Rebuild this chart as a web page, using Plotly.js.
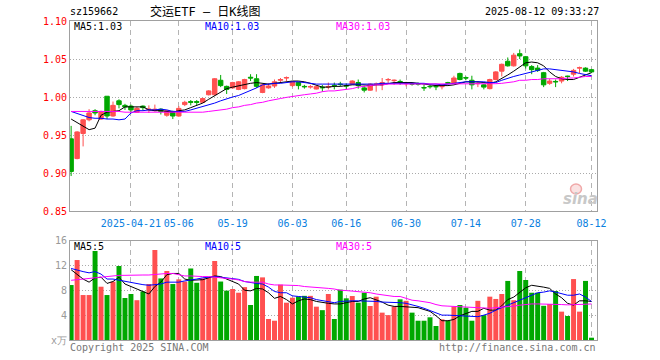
<!DOCTYPE html>
<html><head><meta charset="utf-8">
<script src="https://cdn.plot.ly/plotly-3.0.1.min.js"></script>
<style>body{margin:0;background:#fff}#c{width:660px;height:360px}</style>
</head><body><div id="c"></div>
<script>
const dates = [
'2025-04-07','2025-04-08','2025-04-09','2025-04-10','2025-04-11','2025-04-14','2025-04-15','2025-04-16','2025-04-17','2025-04-18',
'2025-04-21','2025-04-22','2025-04-23','2025-04-24','2025-04-25','2025-04-28','2025-04-29','2025-04-30',
'2025-05-06','2025-05-07','2025-05-08','2025-05-09','2025-05-12','2025-05-13','2025-05-14','2025-05-15','2025-05-16',
'2025-05-19','2025-05-20','2025-05-21','2025-05-22','2025-05-23','2025-05-26','2025-05-27','2025-05-28','2025-05-29','2025-05-30',
'2025-06-03','2025-06-04','2025-06-05','2025-06-06','2025-06-09','2025-06-10','2025-06-11','2025-06-12','2025-06-13',
'2025-06-16','2025-06-17','2025-06-18','2025-06-19','2025-06-20','2025-06-23','2025-06-24','2025-06-25','2025-06-26','2025-06-27',
'2025-06-30','2025-07-01','2025-07-02','2025-07-03','2025-07-04','2025-07-07','2025-07-08','2025-07-09','2025-07-10','2025-07-11',
'2025-07-14','2025-07-15','2025-07-16','2025-07-17','2025-07-18','2025-07-21','2025-07-22','2025-07-23','2025-07-24','2025-07-25',
'2025-07-28','2025-07-29','2025-07-30','2025-07-31','2025-08-01','2025-08-04','2025-08-05','2025-08-06','2025-08-07','2025-08-08',
'2025-08-11','2025-08-12'];

const open = [
0.945,0.919,0.952,0.970,0.982,0.971,1.001,0.975,0.995,0.989,
0.988,0.980,0.988,0.983,0.982,0.984,0.976,0.981,0.975,0.990,
0.994,0.994,0.993,1.003,1.003,1.022,1.014,1.012,1.010,1.011,
1.026,1.024,1.006,1.012,1.0145,1.022,1.025,1.015,1.019,1.014,
1.013,1.0105,1.013,1.013,1.0155,1.017,1.015,1.017,1.019,1.012,
1.009,1.0165,1.016,1.0225,1.0215,1.0205,1.0175,1.0175,1.0175,1.0125,
1.014,1.014,1.0135,1.019,1.018,1.031,1.0255,1.022,1.0175,1.016,
1.011,1.023,1.034,1.047,1.041,1.057,1.053,1.040,1.038,1.032,
1.018,1.0205,1.021,1.0275,1.030,1.038,1.038,1.036];

const high = [
0.962,0.955,0.971,0.984,0.984,0.982,1.001,0.994,0.997,0.991,
0.990,0.987,0.989,0.989,0.990,0.985,0.983,0.982,0.988,0.995,
0.996,0.996,0.999,1.009,1.025,1.029,1.015,1.020,1.021,1.024,
1.030,1.030,1.017,1.018,1.023,1.025,1.027,1.021,1.020,1.016,
1.016,1.015,1.016,1.019,1.019,1.020,1.018,1.022,1.023,1.015,
1.018,1.019,1.025,1.025,1.023,1.023,1.020,1.019,1.019,1.016,
1.016,1.016,1.017,1.020,1.028,1.032,1.027,1.028,1.021,1.017,
1.024,1.034,1.044,1.052,1.058,1.0625,1.054,1.042,1.042,1.033,
1.024,1.023,1.0275,1.028,1.037,1.040,1.039,1.037];

const low = [
0.896,0.918,0.935,0.968,0.976,0.970,0.971,0.974,0.985,0.983,
0.980,0.979,0.982,0.979,0.981,0.977,0.974,0.971,0.974,0.988,
0.989,0.989,0.992,1.002,1.002,1.013,1.004,1.011,1.009,1.010,
1.021,1.012,1.005,1.011,1.012,1.019,1.021,1.013,1.010,1.011,
1.011,1.010,1.007,1.010,1.010,1.014,1.010,1.016,1.011,1.006,
1.008,1.007,1.009,1.018,1.016,1.016,1.014,1.015,1.015,1.008,
1.011,1.009,1.010,1.017,1.017,1.022,1.022,1.010,1.013,1.010,
1.010,1.022,1.027,1.040,1.040,1.050,1.0375,1.030,1.033,1.013,
1.016,1.013,1.018,1.021,1.027,1.031,1.033,1.032];

const close = [
0.902,0.954,0.970,0.979,0.979,0.981,0.975,0.989,0.990,0.987,
0.983,0.985,0.986,0.984,0.984,0.981,0.982,0.975,0.985,0.993,
0.993,0.993,0.998,1.008,1.024,1.015,1.010,1.019,1.020,1.023,
1.025,1.014,1.016,1.0145,1.020,1.023,1.0255,1.020,1.015,1.0135,
1.0138,1.0136,1.0122,1.0138,1.015,1.0165,1.0145,1.021,1.015,1.009,
1.017,1.017,1.019,1.023,1.022,1.020,1.018,1.017,1.017,1.012,
1.0136,1.0135,1.014,1.018,1.025,1.023,1.025,1.016,1.018,1.013,
1.023,1.033,1.043,1.041,1.055,1.054,1.041,1.036,1.035,1.016,
1.021,1.020,1.026,1.027,1.035,1.0385,1.034,1.033];

const ma5 = [
0.971,0.966,0.961,0.957,0.959,0.976,0.980,0.981,0.982,0.987,
0.987,0.987,0.987,0.983,0.982,0.982,0.981,0.980,0.982,0.983,
0.986,0.989,0.992,0.997,1.002,1.007,1.011,1.013,1.015,1.017,
1.018,1.019,1.018,1.017,1.018,1.019,1.020,1.021,1.021,1.020,
1.018,1.015,1.013,1.013,1.014,1.014,1.015,1.016,1.016,1.016,
1.015,1.016,1.016,1.018,1.019,1.019,1.019,1.019,1.018,1.017,
1.016,1.015,1.015,1.015,1.016,1.018,1.020,1.020,1.020,1.019,
1.018,1.020,1.024,1.029,1.034,1.039,1.045,1.046,1.045,1.041,
1.033,1.027,1.024,1.023,1.023,1.026,1.029,1.032];

const ma10 = [
0.981,0.978,0.975,0.973,0.972,0.972,0.971,0.971,0.970,0.971,
0.979,0.982,0.982,0.983,0.983,0.984,0.983,0.981,0.981,0.981,
0.983,0.985,0.987,0.989,0.992,0.995,0.998,1.000,1.002,1.005,
1.008,1.012,1.016,1.017,1.018,1.018,1.019,1.020,1.020,1.019,
1.018,1.017,1.017,1.017,1.017,1.017,1.017,1.017,1.017,1.017,
1.017,1.017,1.018,1.018,1.018,1.018,1.018,1.018,1.018,1.018,
1.017,1.017,1.016,1.017,1.018,1.019,1.020,1.020,1.020,1.020,
1.019,1.019,1.022,1.025,1.027,1.029,1.031,1.034,1.036,1.037,
1.037,1.036,1.035,1.034,1.033,1.031,1.029,1.028];

const ma30 = [
0.981,0.981,0.981,0.981,0.981,0.981,0.981,0.981,0.981,0.980,
0.980,0.980,0.980,0.980,0.980,0.980,0.980,0.980,0.980,0.980,
0.980,0.980,0.980,0.981,0.982,0.983,0.984,0.986,0.987,0.989,
0.990,0.992,0.993,0.995,0.997,0.998,0.9995,1.001,1.002,1.003,
1.004,1.005,1.007,1.008,1.008,1.009,1.010,1.011,1.013,1.014,
1.015,1.016,1.016,1.017,1.017,1.017,1.017,1.017,1.017,1.017,
1.017,1.017,1.0175,1.0175,1.0175,1.0175,1.0175,1.0175,1.0175,1.0175,
1.0175,1.0175,1.018,1.019,1.020,1.022,1.022,1.023,1.023,1.024,
1.024,1.024,1.024,1.025,1.025,1.026,1.027,1.027];

const volume = [
8.84,12.86,7.23,7.23,14.3,8.57,7.23,9.38,11.9,6.75,
7.4,6.4,7.8,9.0,14.47,9.9,11.1,9.0,9.75,9.4,
11.5,9.2,9.9,10.07,12.7,9.4,7.94,8.2,7.6,8.5,
5.63,10.3,10.07,3.38,3.1,8.9,6.0,6.8,7.0,7.1,
7.1,5.36,4.8,7.4,3.38,8.1,6.7,7.07,6.0,7.6,
5.47,6.97,4.4,4.0,5.36,6.54,6.3,4.4,3.1,3.1,
3.65,2.25,3.32,3.1,5.36,5.63,5.2,3.1,6.3,4.0,
6.97,6.6,7.4,9.5,6.4,11.1,9.65,7.6,7.6,5.5,
5.79,7.88,4.56,3.86,9.8,4.56,9.5,0.37];

const volMa5 = [
11.3,10.6,9.8,9.3,10.0,10.1,9.1,9.4,10.1,9.0,
8.6,8.3,7.9,7.4,8.6,9.3,10.5,10.7,10.7,9.8,
9.6,9.6,9.7,10.0,10.3,10.2,9.8,9.5,9.0,8.0,
7.9,8.3,8.2,7.6,6.7,7.0,6.5,5.8,6.3,6.6,
6.5,6.2,6.0,5.9,5.8,5.8,6.0,6.2,6.2,6.6,
6.8,6.5,6.1,5.6,5.4,5.4,5.35,5.3,5.2,4.9,
4.6,3.9,3.1,3.1,3.3,3.9,4.3,4.6,4.6,5.1,
4.8,4.8,5.5,6.5,6.9,7.6,8.4,8.8,8.7,8.5,
8.3,7.4,6.8,5.9,5.6,6.3,6.3,6.2];

const volMa10 = [
11.5,11.2,11.0,10.8,11.0,10.6,9.8,9.8,9.6,9.4,
9.3,9.0,8.9,8.8,8.9,9.0,9.3,9.3,9.3,9.5,
9.6,9.8,10.0,10.1,10.2,10.1,9.95,9.85,9.75,9.4,
9.2,9.1,9.0,8.5,7.8,7.6,7.6,7.1,7.0,6.9,
6.8,6.5,6.3,6.1,6.0,6.2,6.3,6.3,6.3,6.3,
6.3,6.2,6.1,6.1,6.1,6.0,5.9,5.7,5.4,5.1,
4.7,4.4,4.0,4.0,3.95,3.9,3.85,3.8,3.75,4.0,
4.3,4.8,5.2,5.7,6.0,6.5,6.8,7.3,7.6,7.7,
7.9,7.7,7.4,7.2,7.2,7.4,6.9,6.2];

const volMa30 = [
9.6,9.7,9.8,9.9,10.0,10.1,10.3,10.35,10.4,10.4,
10.45,10.45,10.45,10.45,10.55,10.65,10.7,10.7,10.5,10.3,
10.3,10.2,10.2,10.2,10.1,10.1,10.0,9.8,9.65,9.4,
9.3,9.3,9.3,9.0,8.85,8.85,8.85,8.8,8.75,8.6,
8.55,8.5,8.45,8.3,8.2,8.0,7.95,7.85,7.77,7.75,
7.6,7.4,7.25,7.2,7.0,7.0,6.7,6.4,6.3,6.2,
6.0,5.7,5.5,5.45,5.4,5.35,5.25,5.15,5.1,5.1,
5.1,5.2,5.25,5.35,5.45,5.6,5.75,5.8,5.8,5.8,
5.8,5.75,5.7,5.65,5.65,5.7,5.75,5.8];

const tickDates = ['2025-04-21','2025-05-06','2025-05-19','2025-06-03','2025-06-16','2025-06-30','2025-07-14','2025-07-28','2025-08-12'];
const tickLabels = ['2025-04-21','05-06','05-19','06-03','06-16','06-30','07-14','07-28','08-12'];
const priceTicks = [0.85,0.90,0.95,1.00,1.05,1.10];
const priceTickText = ['0.85','0.90','0.95','1.00','1.05','1.10'];
const volTicks = [0,4,8,12,16];
const volTickText = ['x万','4','8','12','16'];
const headerCode = 'sz159662';
const headerTitle = '交运ETF — 日K线图';
const headerTime = '2025-08-12 09:33:27';
const priceMaLabels = ['MA5:1.03','MA10:1.03','MA30:1.03'];
const volMaLabels = ['MA5:5','MA10:5','MA30:5'];

const RED = '#ff5050', GREEN = '#00a800';
const MONO = '"DejaVu Sans Mono", monospace';
const L = 70, R = 597.5, T = 21, B = 340;
const px = x => (x - L) / (R - L);
const py = y => (B - y) / (B - T);

const volColors = close.map((c, i) => c >= open[i] ? RED : GREEN);

const traces = [
  {type:'candlestick', x:dates, open:open, high:high, low:low, close:close, xaxis:'x', yaxis:'y',
   increasing:{line:{color:RED, width:1}, fillcolor:RED},
   decreasing:{line:{color:GREEN, width:1}, fillcolor:GREEN},
   whiskerwidth:0, hoverinfo:'skip'},
  {type:'scatter', mode:'lines', x:dates, y:ma5, xaxis:'x', yaxis:'y', line:{color:'#000000', width:1}, hoverinfo:'skip'},
  {type:'scatter', mode:'lines', x:dates, y:ma10, xaxis:'x', yaxis:'y', line:{color:'#0000ff', width:1}, hoverinfo:'skip'},
  {type:'scatter', mode:'lines', x:dates, y:ma30, xaxis:'x', yaxis:'y', line:{color:'#ff00ff', width:1}, hoverinfo:'skip'},
  {type:'bar', x:dates, y:volume, xaxis:'x2', yaxis:'y2', marker:{color:volColors, line:{width:0}}, hoverinfo:'skip'},
  {type:'scatter', mode:'lines', x:dates, y:volMa5, xaxis:'x2', yaxis:'y2', line:{color:'#000000', width:1}, hoverinfo:'skip'},
  {type:'scatter', mode:'lines', x:dates, y:volMa10, xaxis:'x2', yaxis:'y2', line:{color:'#0000ff', width:1}, hoverinfo:'skip'},
  {type:'scatter', mode:'lines', x:dates, y:volMa30, xaxis:'x2', yaxis:'y2', line:{color:'#ff00ff', width:1}, hoverinfo:'skip'}
];

const xRange = [-0.19, 87.92];
const gridX = {showgrid:true, gridcolor:'#b4b4b4', griddash:'5px,4px', gridwidth:1};
const gridY = {showgrid:true, gridcolor:'#aaaaaa', griddash:'1px,2px', gridwidth:1};
const border = {showline:true, mirror:true, linecolor:'#a0a0a0', linewidth:1, zeroline:false, ticks:'', fixedrange:true};

function ann(text, x, y, color, anchor, size, fam) {
  return {text:text, xref:'paper', yref:'paper', x:px(x), y:py(y), xanchor:anchor, yanchor:'middle',
          showarrow:false, font:{family:fam || MONO, size:size || 10, color:color}, borderpad:0};
}

const layout = {
  width:660, height:360,
  margin:{l:70, r:62.5, t:21, b:20, pad:0},
  paper_bgcolor:'#ffffff', plot_bgcolor:'#ffffff', showlegend:false,
  boxgap:0.22, boxgroupgap:0.05, bargap:0.17,
  xaxis:Object.assign({type:'category', range:xRange, anchor:'y', domain:[0,1],
    tickvals:tickDates, ticktext:tickLabels, tickfont:{family:MONO, size:10, color:'#0a80e0'},
    ticklabelstandoff:3, rangeslider:{visible:false}}, gridX, border),
  yaxis:Object.assign({domain:[py(211),1], range:[0.85,1.10], tickvals:priceTicks, ticktext:priceTickText,
    tickfont:{family:MONO, size:10, color:'#ff0000'}}, gridY, border),
  xaxis2:Object.assign({type:'category', range:xRange, anchor:'y2', domain:[0,1],
    tickvals:tickDates, showticklabels:false}, gridX, border),
  yaxis2:Object.assign({domain:[0,py(240.5)], range:[0,16], tickvals:volTicks, ticktext:volTickText,
    tickfont:{family:MONO, size:10, color:'#999999'}}, gridY, border),
  annotations:[
    ann(headerCode, 69, 12, '#000000', 'left'),
    ann(headerTitle, 149, 12, '#000000', 'left', 12, '"DejaVu Sans Mono","Noto Sans CJK SC"'),
    ann(headerTime, 601, 12, '#000000', 'right'),
    ann(priceMaLabels[0], 73, 26.5, '#000000', 'left'),
    ann(priceMaLabels[1], 204, 26.5, '#0000ff', 'left'),
    ann(priceMaLabels[2], 335, 26.5, '#ff00ff', 'left'),
    ann(volMaLabels[0], 73, 246, '#000000', 'left'),
    ann(volMaLabels[1], 204, 246, '#0000ff', 'left'),
    ann(volMaLabels[2], 335, 246, '#ff00ff', 'left'),
    ann('Copyright 2025 SINA.COM', 69, 347, '#777777', 'left'),
    ann('http://finance.sina.com.cn', 598, 347, '#777777', 'right'),
    {text:'<b><i>sina</i></b>', xref:'paper', yref:'paper', x:px(581), y:py(199), xanchor:'center', yanchor:'middle',
     showarrow:false, font:{family:'"DejaVu Sans"', size:15, color:'#c8c8c8'}}
  ],
  shapes:[
    {type:'circle', xref:'paper', yref:'paper', x0:px(571), x1:px(582), y0:py(194), y1:py(184),
     line:{color:'#f0a8a8', width:1.5}, fillcolor:'rgba(240,160,160,0.3)', layer:'above'}
  ]
};

Plotly.newPlot('c', traces, layout, {displayModeBar:false, staticPlot:true});
</script>
</body></html>
